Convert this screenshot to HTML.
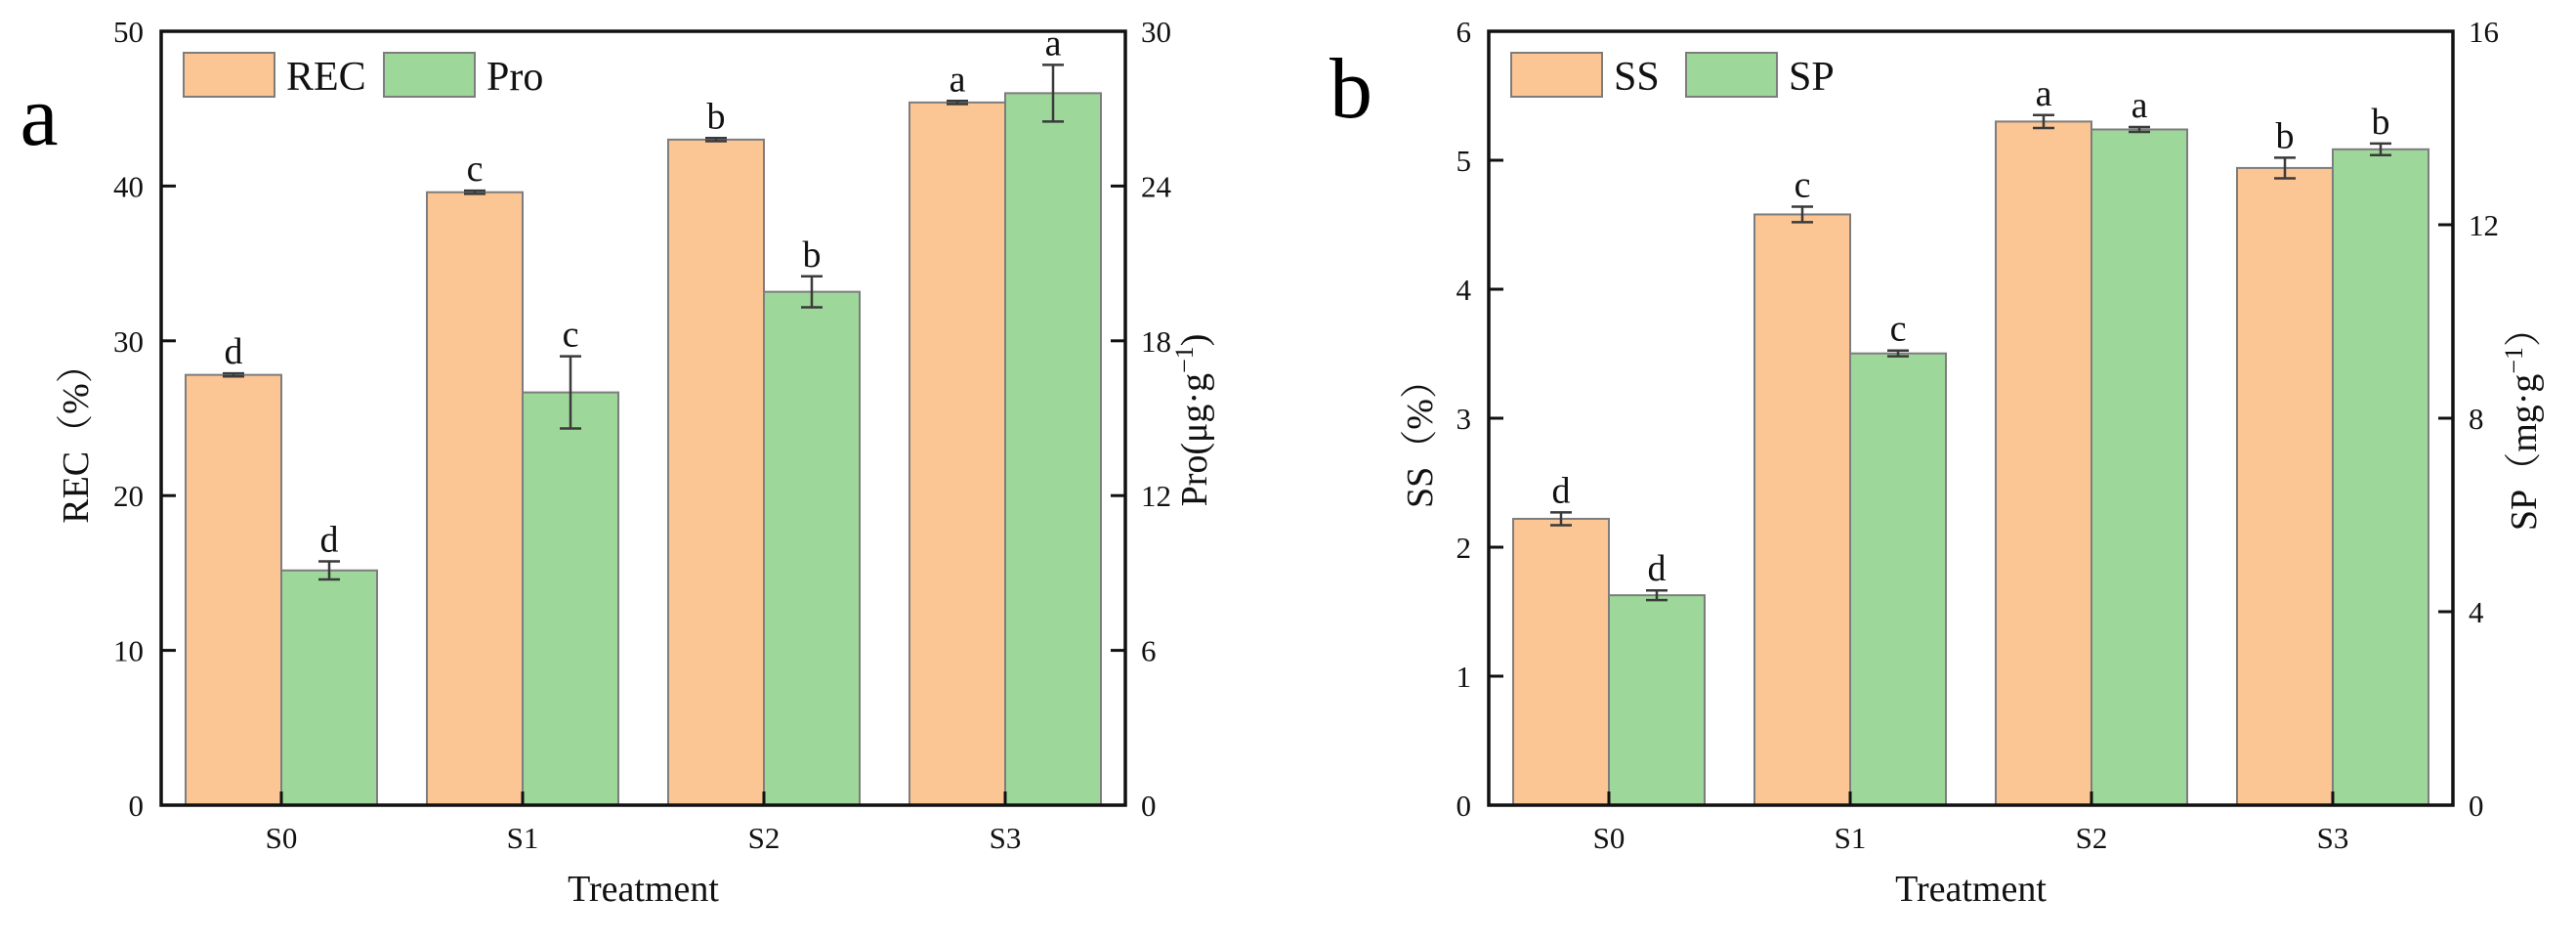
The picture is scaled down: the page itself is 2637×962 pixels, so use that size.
<!DOCTYPE html>
<html><head><meta charset="utf-8">
<style>
html,body{margin:0;padding:0;background:#fff;}
svg{display:block;font-family:"Liberation Serif",serif;}
</style></head>
<body>
<svg id="fig" width="2637" height="962" viewBox="0 0 2637 962" xmlns="http://www.w3.org/2000/svg"></svg>
<script>
const categories = ["S0","S1","S2","S3"];
// Panel a
const recValues = [27.8, 39.6, 43.0, 45.4];
const recErrors = [0.1, 0.1, 0.1, 0.1];
const recLetters = ["d","c","b","a"];
const proValues = [9.1, 16.0, 19.9, 27.6];
const proErrors = [0.35, 1.4, 0.6, 1.1];
const proLetters = ["d","c","b","a"];
const aLeftTicks = [0,10,20,30,40,50];
const aRightTicks = [0,6,12,18,24,30];
// Panel b
const ssValues = [2.22, 4.58, 5.30, 4.94];
const ssErrors = [0.05, 0.06, 0.05, 0.08];
const ssLetters = ["d","c","a","b"];
const spValues = [4.34, 9.34, 13.97, 13.56];
const spErrors = [0.1, 0.06, 0.05, 0.12];
const spLetters = ["d","c","a","b"];
const bLeftTicks = [0,1,2,3,4,5,6];
const bRightTicks = [0,4,8,12,16];

const NS = "http://www.w3.org/2000/svg";
const svg = document.getElementById("fig");
function mk(tag, attrs, parent, text){
  const e = document.createElementNS(NS, tag);
  for (const k in attrs) e.setAttribute(k, attrs[k]);
  if (text !== undefined) e.textContent = text;
  (parent || svg).appendChild(e);
  return e;
}

function panel(o){
  const g = mk("g", {});
  
  
  const L=o.x0, R=o.x1, T=32, B=824;
  const yL = v => B - (v - 0) / (o.lMax) * (B - T);
  const yR = v => B - v / (o.rMax) * (B - T);
  const xC = i => L + 123 + i * 247;
  const bw = 98;
  categories.forEach((c, i) => {
    const specs = [
      {v:o.lv[i], e:o.le[i], l:o.ll[i], y:yL, x:xC(i)-bw, fill:"#FCC594", nm:o.lName},
      {v:o.rv[i], e:o.re[i], l:o.rl[i], y:yR, x:xC(i), fill:"#9ED79A", nm:o.rName}
    ];
    specs.forEach(s => {
      const top = s.y(s.v);
      const r = mk("rect", {x:s.x, y:top, width:bw, height:B-top, fill:s.fill, stroke:"#7d7d7d", "stroke-width":2}, g);
      
      
      const cx = s.x + bw/2, y1 = s.y(s.v + s.e), y2 = s.y(s.v - s.e);
      const eb = mk("path", {d:`M${cx},${y1}V${y2}M${cx-11},${y1}H${cx+11}M${cx-11},${y2}H${cx+11}`, stroke:"#3a3a3a", "stroke-width":2.5, fill:"none"}, g);
      
      
      const t = mk("text", {x:cx, y:y1-10, "text-anchor":"middle", "font-size":38, fill:"#111"}, g, s.l);
      
      
    });
    const tk = mk("line", {x1:xC(i), x2:xC(i), y1:B, y2:B-14, stroke:"#111", "stroke-width":3}, g);
    
    
    const tl = mk("text", {x:xC(i), y:868, "text-anchor":"middle", "font-size":31, fill:"#111"}, g, c);
    
    
  });
  const fr = mk("rect", {x:L, y:T, width:R-L, height:B-T, fill:"none", stroke:"#111", "stroke-width":3.5}, g);
  
  
  o.lt.forEach(v => {
    const y = yL(v);
    if (v>0 && v<o.lMax){ const l=mk("line",{x1:L,x2:L+15,y1:y,y2:y,stroke:"#111","stroke-width":3},g);
        }
    const t = mk("text", {x:L-18, y:y+11, "text-anchor":"end", "font-size":31, fill:"#111"}, g, String(v));
    
    
  });
  o.rt.forEach(v => {
    const y = yR(v);
    if (v>0 && v<o.rMax){ const l=mk("line",{x1:R-15,x2:R,y1:y,y2:y,stroke:"#111","stroke-width":3},g);
        }
    const t = mk("text", {x:R+16, y:y+11, "text-anchor":"start", "font-size":31, fill:"#111"}, g, String(v));
    
    
  });
  const lg = mk("g", {}, g);
  
  
  const lx = L + 23;
  const e1 = mk("rect", {x:lx, y:54, width:93, height:45, fill:"#FCC594", stroke:"#7d7d7d", "stroke-width":2}, lg);
  
  
  const t1 = mk("text", {x:lx+105, y:92, "font-size":42, fill:"#111"}, lg, o.lName);
  
  
  const e2 = mk("rect", {x:lx+o.leg2, y:54, width:93, height:45, fill:"#9ED79A", stroke:"#7d7d7d", "stroke-width":2}, lg);
  
  
  const t2 = mk("text", {x:lx+o.leg2+105, y:92, "font-size":42, fill:"#111"}, lg, o.rName);
  
  
  const xt = mk("text", {x:(L+R)/2, y:922, "text-anchor":"middle", "font-size":38, fill:"#111"}, g, "Treatment");
  
  
  const ly = mk("text", {x:0, y:0, transform:`translate(${o.ltx},445) rotate(-90)`, "text-anchor":"middle", "font-size":38, fill:"#111", "font-family":"'Liberation Serif','Noto Serif CJK SC',serif"}, g);
  ly.innerHTML = o.lTitle;
  
  
  const ry = mk("text", {x:0, y:0, transform:`translate(${o.rtx},430) rotate(-90)`, "text-anchor":"middle", "font-size":38, fill:"#111", "font-family":"'Liberation Serif','Noto Serif CJK SC',serif"}, g);
  ry.innerHTML = o.rTitle;
  
  
  const pl = mk("text", {x:o.px, y:o.py, "text-anchor":"middle", "font-size":88, fill:"#000"}, g, o.plabel);
  
  
}

panel({name:"panel-a", x0:165, x1:1152, lv:recValues, le:recErrors, ll:recLetters, rv:proValues, re:proErrors, rl:proLetters,
  lMax:50, rMax:30, lt:aLeftTicks, rt:aRightTicks, lName:"REC", rName:"Pro", leg2:205,
  lTitle:"REC（%）", rTitle:'Pro(μg·g<tspan baseline-shift="super" font-size="26">−1</tspan>)', ltx:90, rtx:1235, px:40, py:148, plabel:"a"});
panel({name:"panel-b", x0:1524, x1:2511, lv:ssValues, le:ssErrors, ll:ssLetters, rv:spValues, re:spErrors, rl:spLetters,
  lMax:6, rMax:16, lt:bLeftTicks, rt:bRightTicks, lName:"SS", rName:"SP", leg2:179,
  lTitle:"SS（%）", rTitle:'SP（mg·g<tspan baseline-shift="super" font-size="26">−1</tspan>）', ltx:1466, rtx:2596, px:1383, py:120, plabel:"b"});
</script>
</body></html>
